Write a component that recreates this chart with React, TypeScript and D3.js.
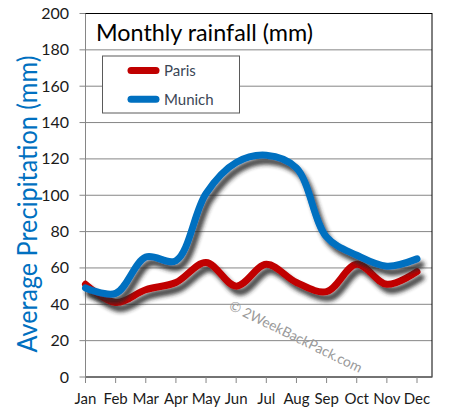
import React from "react";
import * as d3 from "d3";

const months = ["Jan", "Feb", "Mar", "Apr", "May", "Jun", "Jul", "Aug", "Sep", "Oct", "Nov", "Dec"];
const paris = [51, 41, 48, 52, 63, 50, 62, 52, 47, 62, 51, 58];
const munich = [49, 46, 66, 64, 101, 118, 122, 115, 77, 67, 61, 65];
const yTicks = [0, 20, 40, 60, 80, 100, 120, 140, 160, 180, 200];
const seriesNames = ["Paris", "Munich"];
const seriesColors = ["#C00000", "#0070C0"];

export default function App() {
  const W = 452, H = 418;
  const left = 85.5, right = 432, top = 13.5, bottom = 377;
  const x = d3.scalePoint<string>().domain(months).range([85.5, 417]);
  const y = d3.scaleLinear().domain([0, 200]).range([bottom, top]);
  const line = d3
    .line<number>()
    .x((_, i) => x(months[i]) as number)
    .y((d) => y(d))
    .curve(d3.curveCatmullRom.alpha(0.5));
  const series = [paris, munich];
  const font = "Lato, 'Open Sans', sans-serif";

  return (
    <svg width={W} height={H} style={{ position: "absolute", left: 0, top: 0, background: "#fff" }}>
      <defs>
        <filter id="sh" x="-10%" y="-20%" width="130%" height="160%">
          <feGaussianBlur in="SourceAlpha" stdDeviation="2" result="b" />
          <feOffset in="b" dx="4" dy="5.5" result="o" />
          <feComponentTransfer in="o" result="oc">
            <feFuncA type="linear" slope="0.85" />
          </feComponentTransfer>
          <feFlood floodColor="#262626" result="f" />
          <feComposite in="f" in2="oc" operator="in" result="s" />
          <feMerge>
            <feMergeNode in="s" />
            <feMergeNode in="SourceGraphic" />
          </feMerge>
        </filter>
      </defs>
      <rect x={0} y={0} width={W} height={H} fill="#fff" />
      {/* gridlines */}
      {yTicks.map((t) => (
        <line key={t} x1={left - 6} x2={right} y1={y(t)} y2={y(t)} stroke="#868686" strokeWidth={1} />
      ))}
      {/* plot border */}
      <rect x={left} y={top} width={right - left} height={bottom - top} fill="none" stroke="#000" strokeWidth={1} />
      <line x1={left} x2={left} y1={top} y2={bottom} stroke="#868686" />
      <line x1={left} x2={right} y1={bottom} y2={bottom} stroke="#868686" />
      {months.map((m) => (
        <line key={m} x1={x(m)} x2={x(m)} y1={bottom} y2={bottom + 6} stroke="#868686" />
      ))}
      {/* y tick labels */}
      {yTicks.map((t) => (
        <text key={t} x={69} y={y(t) + 5.5} textAnchor="end" fontFamily={font} fontSize={16} fill="#1a1a1a">
          {t}
        </text>
      ))}
      {/* x tick labels */}
      {months.map((m) => (
        <text key={m} x={x(m)} y={404} textAnchor="middle" fontFamily={font} fontSize={15} fill="#1a1a1a">
          {m}
        </text>
      ))}
      {/* legend */}
      <rect x={102.5} y={56} width={137} height={57} fill="#fff" stroke="#5a5a5a" strokeWidth={1} />
      {seriesNames.map((n, i) => (
        <g key={n}>
          <line x1={131} x2={156} y1={70.5 + i * 28.7} y2={70.5 + i * 28.7} stroke={seriesColors[i]} strokeWidth={7} strokeLinecap="round" />
          <text x={164} y={76 + i * 28.7} fontFamily={font} fontSize={15} fill="#3b4656">
            {n}
          </text>
        </g>
      ))}
      {/* watermark */}
      <text
        x={228}
        y={309}
        transform="rotate(26 228 309)"
        fontFamily={font}
        fontSize={14}
        fill="#9a9a9a"
        textLength={146}
        lengthAdjust="spacingAndGlyphs"
      >
        © 2WeekBackPack.com
      </text>
      {/* series */}
      {series.map((s, i) => (
        <path
          key={i}
          d={line(s) as string}
          fill="none"
          stroke={seriesColors[i]}
          strokeWidth={7}
          strokeLinecap="round"
          strokeLinejoin="round"
          filter="url(#sh)"
        />
      ))}
      {/* title */}
      <text x={96} y={41} fontFamily={font} fontSize={24} fill="#000" textLength={217} lengthAdjust="spacingAndGlyphs">
        Monthly rainfall (mm)
      </text>
      {/* y axis title */}
      <text
        transform="translate(37 204) rotate(-90)"
        textAnchor="middle"
        fontFamily={font}
        fontSize={27}
        fill="#0070C0"
        textLength={297}
        lengthAdjust="spacingAndGlyphs"
      >
        Average Precipitation (mm)
      </text>
    </svg>
  );
}
